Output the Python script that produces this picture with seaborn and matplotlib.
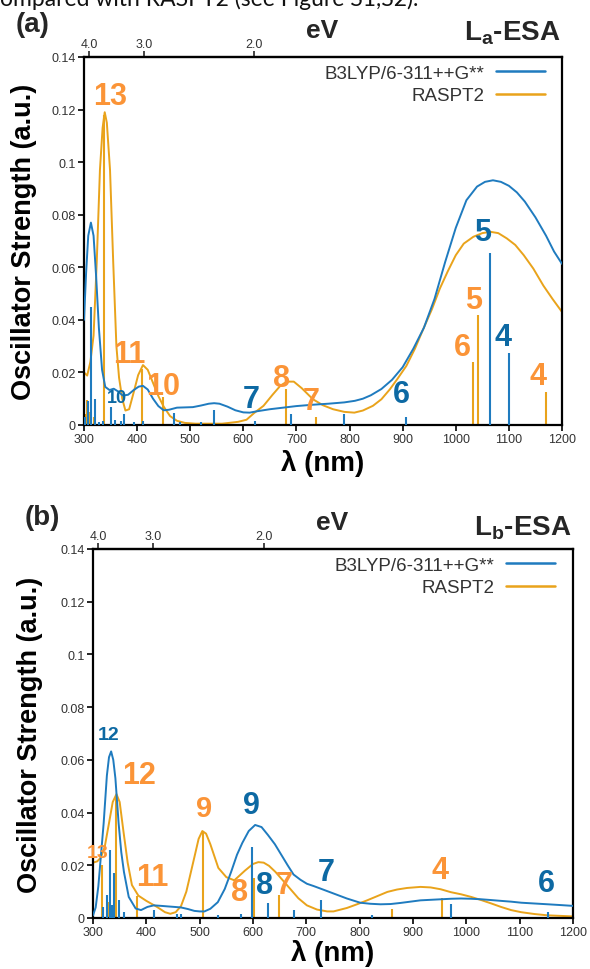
import numpy as np
import matplotlib
matplotlib.use('Agg')
import matplotlib.pyplot as plt
import seaborn as sns

# --------------------------------------------------
# Data
# --------------------------------------------------
# (a) La-ESA : broadened spectra
wl_b_a = [300, 304, 308, 313, 318, 323, 328, 334, 340, 348, 356, 364, 373, 383, 393, 403, 411, 420, 430, 440,
          450, 460, 475, 490, 505, 520, 535, 545, 555, 570, 585, 600, 612, 625, 650, 675, 700, 730, 760, 790,
          810, 825, 840, 860, 880, 900, 920, 940, 960, 980, 1000, 1020, 1040, 1055, 1070, 1085, 1100, 1115,
          1130, 1150, 1170, 1185, 1200]
f_b_a = [0.040, 0.058, 0.072, 0.077, 0.072, 0.056, 0.037, 0.021, 0.0145, 0.0133, 0.0138, 0.0128, 0.0112, 0.0115,
         0.0132, 0.0146, 0.0149, 0.0135, 0.0100, 0.0072, 0.0056, 0.0058, 0.0066, 0.0067, 0.0068, 0.0074, 0.0081,
         0.0083, 0.0081, 0.0070, 0.0056, 0.0048, 0.0047, 0.0052, 0.0060, 0.0066, 0.0072, 0.0077, 0.0081, 0.0086,
         0.0092, 0.0100, 0.0113, 0.0137, 0.0172, 0.0220, 0.0290, 0.0370, 0.0480, 0.0620, 0.0750, 0.0855, 0.0907,
         0.0925, 0.0931, 0.0925, 0.0910, 0.0885, 0.0850, 0.0790, 0.0720, 0.0660, 0.0613]

wl_o_a = [300, 306, 312, 318, 324, 330, 335, 339, 343, 349, 355, 361, 366, 372, 378, 385, 393, 402, 411, 420,
          430, 440, 450, 462, 475, 490, 510, 530, 560, 590, 606, 620, 638, 655, 670, 682, 695, 710, 731, 750,
          769, 790, 809, 825, 844, 860, 876, 890, 907, 923, 939, 955, 970, 985, 1000, 1015, 1033, 1050, 1065,
          1080, 1096, 1112, 1128, 1146, 1165, 1182, 1200]
f_o_a = [0.020, 0.0188, 0.024, 0.034, 0.062, 0.097, 0.113, 0.119, 0.115, 0.097, 0.062, 0.030, 0.018, 0.010,
         0.0055, 0.006, 0.012, 0.019, 0.0228, 0.021, 0.016, 0.011, 0.007, 0.0034, 0.0016, 0.0008, 0.0005, 0.0005,
         0.0005, 0.0012, 0.002, 0.0045, 0.0073, 0.0115, 0.0150, 0.0165, 0.0165, 0.0140, 0.0098, 0.0075, 0.0060,
         0.0050, 0.0047, 0.0055, 0.0073, 0.0098, 0.0136, 0.0175, 0.0225, 0.029, 0.0366, 0.044, 0.0519, 0.0585,
         0.0646, 0.0690, 0.0716, 0.0730, 0.0735, 0.0730, 0.0710, 0.0685, 0.0646, 0.0595, 0.0530, 0.0480, 0.043]

# (a) stick transitions
stk_b_a_wl = [302, 307, 314, 321, 328, 336, 350, 358, 370, 376, 395, 412, 470, 480, 520, 545, 622, 690, 789, 907,
              1064, 1101]
stk_b_a_f = [0.003, 0.009, 0.045, 0.010, 0.001, 0.0015, 0.0068, 0.002, 0.0015, 0.0042, 0.0012, 0.0015, 0.0044,
             0.001, 0.001, 0.0056, 0.0015, 0.0043, 0.0043, 0.0032, 0.0655, 0.0273]
stk_o_a_wl = [303, 306, 310, 318, 338, 410, 448, 680, 737, 1032, 1041, 1169]
stk_o_a_f = [0.004, 0.0095, 0.005, 0.003, 0.118, 0.0213, 0.0107, 0.0136, 0.003, 0.0238, 0.0419, 0.0126]

# (a) state labels
lab_o_a = ['13', '11', '10', '8', '7', '6', '5', '4']
lab_o_a_x = [349, 386, 449, 672, 728, 1013, 1033, 1155]
lab_o_a_y = [0.125, 0.027, 0.0149, 0.018, 0.0092, 0.0296, 0.0474, 0.0187]
lab_b_a = ['10', '7', '6', '5', '4']
lab_b_a_x = [362, 614, 898, 1050, 1088]
lab_b_a_y = [0.0104, 0.0098, 0.0117, 0.0733, 0.0334]
lab_b_a_size = [13, 22, 22, 22, 22]

# (b) Lb-ESA : broadened spectra
wl_b_b = [300, 305, 310, 315, 320, 326, 330, 334, 338, 342, 348, 353, 358, 367, 380, 390, 402, 414, 428, 440,
          453, 465, 478, 490, 500, 509, 520, 534, 547, 559, 570, 580, 592, 604, 616, 628, 641, 653, 665, 676,
          689, 701, 714, 726, 751, 776, 801, 820, 839, 858, 876, 895, 914, 933, 952, 971, 990, 1009, 1028, 1047,
          1065, 1084, 1103, 1128, 1153, 1177, 1200]
f_b_b = [0.001, 0.004, 0.012, 0.024, 0.036, 0.054, 0.061, 0.0632, 0.060, 0.053, 0.036, 0.025, 0.0175, 0.008,
         0.0036, 0.003, 0.0042, 0.0048, 0.0046, 0.0044, 0.0042, 0.004, 0.0034, 0.0027, 0.0025, 0.0025, 0.0035,
         0.006, 0.011, 0.0175, 0.024, 0.0285, 0.033, 0.0353, 0.0345, 0.0315, 0.028, 0.024, 0.020, 0.0165, 0.0145,
         0.013, 0.0121, 0.0112, 0.0093, 0.0074, 0.0058, 0.0054, 0.0052, 0.0053, 0.0057, 0.0062, 0.0067, 0.0069,
         0.0071, 0.0073, 0.0074, 0.0073, 0.0071, 0.0068, 0.0065, 0.0062, 0.0058, 0.0055, 0.0052, 0.0049, 0.0046]

wl_o_b = [300, 308, 315, 322, 330, 337, 344, 350, 357, 365, 373, 385, 400, 420, 435, 445, 455, 465, 475, 490,
          498, 505, 512, 520, 535, 550, 565, 585, 600, 610, 620, 630, 642, 655, 670, 685, 701, 720, 739, 751,
          776, 795, 814, 833, 852, 870, 889, 914, 933, 952, 971, 990, 1009, 1028, 1047, 1065, 1084, 1103, 1128,
          1153, 1177, 1200]
f_o_b = [0.021, 0.0215, 0.023, 0.027, 0.036, 0.044, 0.047, 0.044, 0.033, 0.021, 0.0125, 0.0085, 0.0065, 0.0042,
         0.0022, 0.0016, 0.0022, 0.0045, 0.010, 0.023, 0.030, 0.033, 0.032, 0.028, 0.019, 0.0155, 0.0143, 0.018,
         0.0205, 0.0212, 0.021, 0.0198, 0.0175, 0.0145, 0.011, 0.0075, 0.0048, 0.0032, 0.0025, 0.0025, 0.0038,
         0.0052, 0.0067, 0.0083, 0.0099, 0.0108, 0.0114, 0.0118, 0.0116, 0.0109, 0.0098, 0.0090, 0.0080, 0.0068,
         0.0055, 0.0042, 0.0030, 0.0022, 0.0015, 0.0010, 0.0008, 0.0006]

# (b) stick transitions
stk_b_b_wl = [319, 326, 331, 336, 339, 348, 358, 414, 458, 465, 534, 577, 598, 628, 676, 727, 823, 971, 1153]
stk_b_b_f = [0.004, 0.0086, 0.0257, 0.0048, 0.0172, 0.0067, 0.0023, 0.003, 0.0014, 0.0016, 0.001, 0.0014, 0.027,
             0.0058, 0.0032, 0.007, 0.001, 0.0055, 0.0023]
stk_o_b_wl = [317, 328, 343, 382, 414, 506, 602, 648, 860, 954]
stk_o_b_f = [0.020, 0.006, 0.046, 0.0082, 0.002, 0.0327, 0.015, 0.0086, 0.0036, 0.0074]

# (b) state labels
lab_o_b = ['13', '12', '11', '9', '8', '7', '4']
lab_o_b_x = [309, 386, 411, 509, 574, 658, 951]
lab_o_b_y = [0.025, 0.0543, 0.0156, 0.0416, 0.0099, 0.0124, 0.0181]
lab_o_b_size = [14, 22, 22, 21, 22, 22, 22]
lab_b_b = ['12', '9', '8', '7', '6']
lab_b_b_x = [330, 597, 622, 738, 1150]
lab_b_b_y = [0.0695, 0.0429, 0.0124, 0.0175, 0.0131]
lab_b_b_size = [14, 22, 22, 22, 22]

y_ticks = [0, 0.02, 0.04, 0.06, 0.08, 0.10, 0.12, 0.14]
y_tick_labels = ['0', '0.02', '0.04', '0.06', '0.08', '0.1', '0.12', '0.14']
x_ticks = [300, 400, 500, 600, 700, 800, 900, 1000, 1100, 1200]
ev_ticks = [4.0, 3.0, 2.0]

# --------------------------------------------------
# Style
# --------------------------------------------------
sns.set_theme(style='ticks')
plt.rcParams['font.family'] = ['Liberation Sans', 'DejaVu Sans']
plt.rcParams['mathtext.fontset'] = 'custom'
plt.rcParams['mathtext.rm'] = 'Liberation Sans'
plt.rcParams['mathtext.bf'] = 'Liberation Sans:bold'
plt.rcParams['mathtext.it'] = 'Liberation Sans:italic'

BLUE = '#1f7bbf'
ORANGE = '#e9a31b'
BLUE_TXT = '#0d69a3'
ORANGE_TXT = '#fb9437'
GREY = '#333333'
LEG_FS = 13.5

fig = plt.figure(figsize=(5.9, 9.7), dpi=100)
# clipped line of running text above the figure, as in the reference
fig.text(0.0, 1 - 6 / 970, 'ompared with RASPT2 (see Figure S1,S2).', fontsize=16.5,
         family=['Lato', 'DejaVu Sans'], va='baseline', color='#111111')


def draw_panel(ax, wl_b, f_b, wl_o, f_o, sb_wl, sb_f, so_wl, so_f, leg_x):
    sns.lineplot(x=wl_b, y=f_b, ax=ax, color=BLUE, lw=1.4, sort=False,
                 label='B3LYP/6-311++G**', zorder=3)
    sns.lineplot(x=wl_o, y=f_o, ax=ax, color=ORANGE, lw=1.4, sort=False,
                 label='RASPT2', zorder=2)
    ax.vlines(so_wl, 0, so_f, color=ORANGE, lw=1.5, zorder=2)
    ax.vlines(sb_wl, 0, sb_f, color=BLUE, lw=1.5, zorder=3)

    ax.set_xlim(300, 1200)
    ax.set_ylim(0, 0.14)
    ax.set_xticks(x_ticks)
    ax.set_yticks(y_ticks)
    ax.set_yticklabels(y_tick_labels)
    ax.tick_params(axis='both', labelsize=9, labelcolor=GREY, direction='out',
                   length=4, width=1.2, color='black', pad=2)
    for sp in ax.spines.values():
        sp.set_visible(True)
        sp.set_linewidth(1.6)
        sp.set_color('black')

    ax.set_xlabel(r'λ (nm)', fontsize=20, fontweight='bold', color='black')
    ax.set_ylabel('Oscillator Strength (a.u.)', fontsize=19.5, fontweight='bold', color='black')

    # photon energy on top axis
    sec = ax.secondary_xaxis('top', functions=(lambda x: 1239.84 / np.maximum(x, 1e-3),
                                                lambda e: 1239.84 / np.maximum(e, 1e-3)))
    sec.set_xticks(ev_ticks)
    sec.set_xticklabels(['4.0', '3.0', '2.0'])
    sec.tick_params(labelsize=9, labelcolor=GREY, direction='out', length=4, width=1.2, pad=1)
    sec.spines['top'].set_linewidth(1.6)

    leg = ax.legend(loc='upper right', bbox_to_anchor=(leg_x, 1.0), frameon=False,
                    markerfirst=False, fontsize=LEG_FS, handlelength=2.6, handletextpad=0.65,
                    labelspacing=0.3, borderaxespad=0.0, borderpad=0.4)
    for t in leg.get_texts():
        t.set_color(GREY)
    for h in leg.legend_handles:
        h.set_linewidth(1.8)


def put_labels(ax, texts, xs, ys, sizes, color):
    for s, x, y, fs in zip(texts, xs, ys, sizes):
        ax.text(x, y, s, color=color, fontsize=fs, fontweight='bold',
                ha='center', va='center', zorder=5)


# --------------------------------------------------
# Panel (a)
# --------------------------------------------------
ax1 = fig.add_axes([84 / 590, 1 - 426 / 970, 478 / 590, 368 / 970])
draw_panel(ax1, wl_b_a, f_b_a, wl_o_a, f_o_a, stk_b_a_wl, stk_b_a_f, stk_o_a_wl, stk_o_a_f,
           (552.5 - 84) / 478)
put_labels(ax1, lab_o_a, lab_o_a_x, lab_o_a_y, [22] * len(lab_o_a), ORANGE_TXT)
put_labels(ax1, lab_b_a, lab_b_a_x, lab_b_a_y, lab_b_a_size, BLUE_TXT)
ax1.yaxis.set_label_coords(-0.098, 0.5)
ax1.xaxis.set_label_coords(0.5, -0.064)

fig.text(33 / 590, 1 - 25 / 970, '(a)', fontsize=20, fontweight='bold', ha='center', va='center')
fig.text(322 / 590, 1 - 31 / 970, 'eV', fontsize=19, fontweight='bold', ha='center', va='center')
fig.text(560 / 590, 1 - 33 / 970, r'L$_\mathbf{a}$-ESA', fontsize=20, fontweight='bold',
         ha='right', va='center')

# --------------------------------------------------
# Panel (b)
# --------------------------------------------------
ax2 = fig.add_axes([93 / 590, 1 - 919 / 970, 480 / 590, 369 / 970])
draw_panel(ax2, wl_b_b, f_b_b, wl_o_b, f_o_b, stk_b_b_wl, stk_b_b_f, stk_o_b_wl, stk_o_b_f,
           (562.5 - 93) / 480)
put_labels(ax2, lab_o_b, lab_o_b_x, lab_o_b_y, lab_o_b_size, ORANGE_TXT)
put_labels(ax2, lab_b_b, lab_b_b_x, lab_b_b_y, lab_b_b_size, BLUE_TXT)
ax2.yaxis.set_label_coords(-0.104, 0.5)
ax2.xaxis.set_label_coords(0.5, -0.058)

fig.text(42 / 590, 1 - 518 / 970, '(b)', fontsize=20, fontweight='bold', ha='center', va='center')
fig.text(332 / 590, 1 - 523 / 970, 'eV', fontsize=19, fontweight='bold', ha='center', va='center')
fig.text(571 / 590, 1 - 528 / 970, r'L$_\mathbf{b}$-ESA', fontsize=20, fontweight='bold',
         ha='right', va='center')

fig.savefig('out.png', dpi=100)
